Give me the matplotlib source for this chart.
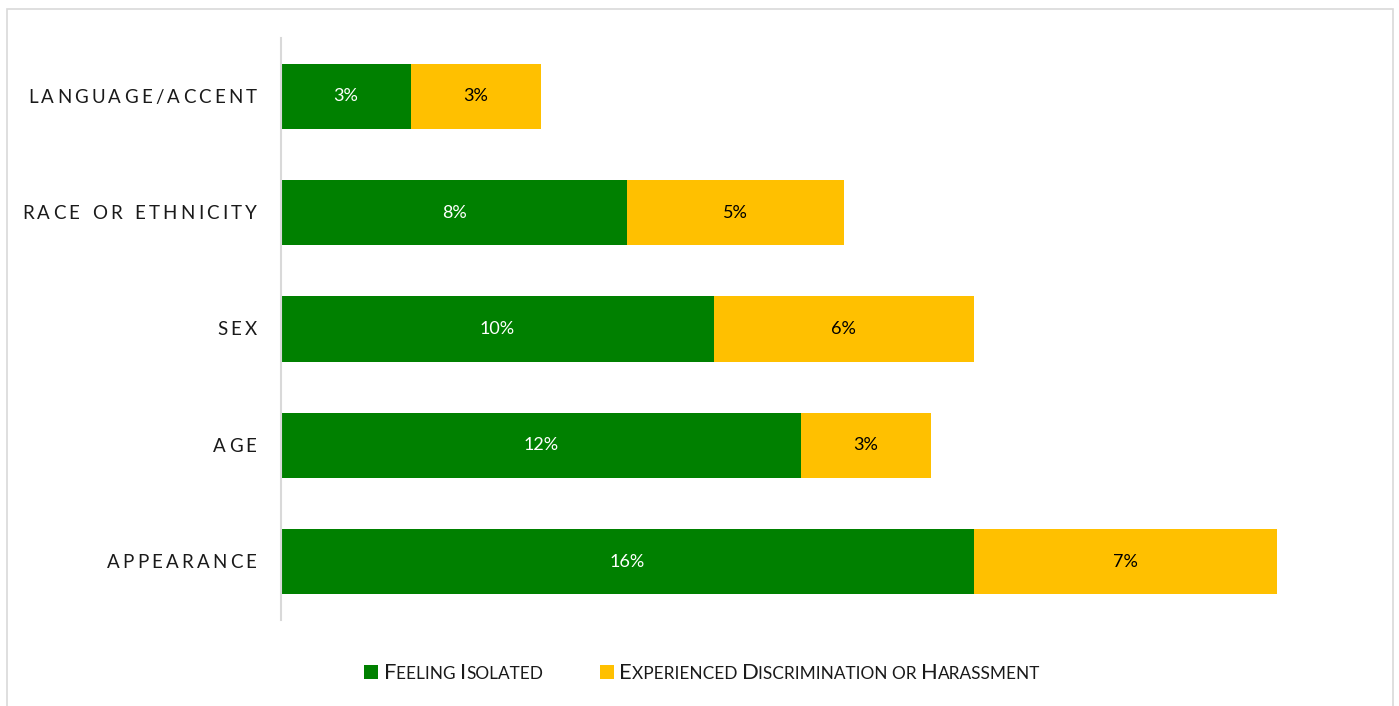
import matplotlib
matplotlib.use("Agg")
import matplotlib.pyplot as plt
from matplotlib.patches import Rectangle
from matplotlib.transforms import IdentityTransform

categories = ["LANGUAGE/ACCENT", "RACE OR ETHNICITY", "SEX", "AGE", "APPEARANCE"]
isolated = [3, 8, 10, 12, 16]
discrimination = [3, 5, 6, 3, 7]
series_names = [("F", "EELING "), ("I", "SOLATED")]
series_names2 = [("E", "XPERIENCED "), ("D", "ISCRIMINATION "), ("", "OR "), ("H", "ARASSMENT")]

GREEN = "#008000"
YELLOW = "#FFC000"
FONT = "Lato"

W, H = 1399, 706
fig = plt.figure(figsize=(W / 100, H / 100), dpi=100)
fig.patch.set_facecolor("white")

# outer frame of the chart area
fig.patches.append(Rectangle((7, -20), 1386, 706 - 9 + 20, transform=IdentityTransform(),
                             fill=False, edgecolor="#D9D9D9", linewidth=1.2))

ax = fig.add_axes([281 / W, 1 - 620 / H, (1363.5 - 281) / W, (620 - 38) / H])
ypos = list(range(len(categories)))
bh = 0.56
ax.barh(ypos, isolated, height=bh, color=GREEN)
ax.barh(ypos, discrimination, left=isolated, height=bh, color=YELLOW)
ax.set_xlim(0, 25)
ax.set_ylim(len(categories) - 0.5, -0.5)
for s in ["top", "right", "bottom"]:
    ax.spines[s].set_visible(False)
ax.spines["left"].set_color("#D9D9D9")
ax.spines["left"].set_linewidth(1.5)
ax.set_xticks([])
ax.set_yticks([])

for y, a, b in zip(ypos, isolated, discrimination):
    ax.text(a / 2, y, f"{a}%", ha="center", va="center", color="white",
            fontsize=13, family=FONT)
    ax.text(a + b / 2, y, f"{b}%", ha="center", va="center", color="black",
            fontsize=13, family=FONT)

renderer = fig.canvas.get_renderer()


def text_width(s, size):
    t = fig.text(0, 0, s, fontsize=size, family=FONT)
    w = t.get_window_extent(renderer).width
    t.remove()
    return w


def spaced_text(s, x_right, y_center, size, gap):
    widths = [text_width(c, size) if c != " " else text_width("n", size) * 0.6 for c in s]
    total = sum(widths) + gap * (len(s) - 1)
    x = x_right - total
    for c, w in zip(s, widths):
        if c != " ":
            fig.text(x, y_center, c, fontsize=size, family=FONT, color="#1a1a1a",
                     va="center", ha="left", transform=IdentityTransform())
        x += w + gap


# category labels with wide letter spacing
fig.canvas.draw()
for y, name in zip(ypos, categories):
    yd = ax.transData.transform((0, y))[1] - 1
    spaced_text(name, 256.5, yd, 13.5, 3.15)


def small_caps(pieces, x, y_base, big, small):
    for first, rest in pieces:
        if first:
            fig.text(x, y_base, first, fontsize=big, family=FONT, color="#1a1a1a",
                     va="baseline", transform=IdentityTransform())
            x += text_width(first, big)
        if rest:
            fig.text(x, y_base, rest, fontsize=small, family=FONT, color="#1a1a1a",
                     va="baseline", transform=IdentityTransform())
            x += text_width(rest, small)
    return x


leg_y = H - 679
fig.patches.append(Rectangle((364, H - 679), 14, 14, transform=IdentityTransform(),
                             facecolor=GREEN, edgecolor="none"))
small_caps(series_names, 384, leg_y, 15.8, 12.4)
fig.patches.append(Rectangle((600, H - 679), 14, 14, transform=IdentityTransform(),
                             facecolor=YELLOW, edgecolor="none"))
small_caps(series_names2, 619, leg_y, 15.8, 12.4)

fig.savefig("out.png", dpi=100)
